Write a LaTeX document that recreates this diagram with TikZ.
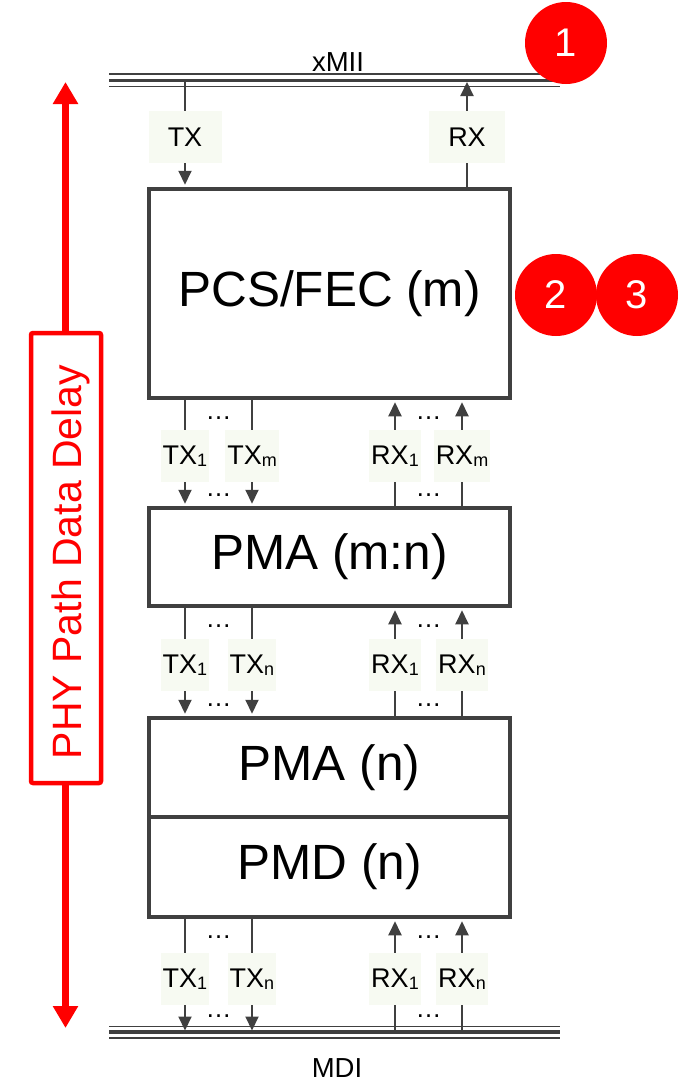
\documentclass[tikz,border=0pt]{standalone}
\usepackage{fontspec}
\setmainfont{Liberation Sans}
\usetikzlibrary{arrows.meta,calc}
\definecolor{lgray}{RGB}{64,64,64}
\definecolor{lblbg}{RGB}{247,250,242}
\definecolor{pred}{RGB}{255,0,0}
\newcommand{\lsub}[1]{\raisebox{-2.5pt}{\fontsize{18}{20}\selectfont #1}}
\begin{document}
\begin{tikzpicture}[x=1pt,y=-1pt,
  box/.style={draw=lgray,line width=4.5pt,fill=white,minimum width=361pt,inner sep=0pt,font=\fontsize{49.5}{52}\selectfont},
  sig/.style={draw=lgray,line width=2pt,-{Triangle[width=13pt,length=14pt]}},
  lbl/.style={fill=lblbg,inner xsep=2pt,minimum height=52pt,font=\fontsize{27}{29}\selectfont,text=black},
  dotsnode/.style={font=\fontsize{26}{28}\selectfont,anchor=base,inner sep=0pt},
  busthin/.style={draw=lgray,line width=1.5pt},
  busthick/.style={draw=lgray,line width=3.5pt},
  bubble/.style={circle,fill=pred,minimum size=82pt,inner sep=0pt,text=white,font=\fontsize{40}{42}\selectfont},
]
\useasboundingbox (0,0) rectangle (687,1082);

% red delay arrow and box
\coordinate (arrTop) at (65.5,82);
\coordinate (arrBot) at (65.5,1028);
\draw[pred,line width=7pt,{Triangle[width=24pt,length=22pt]}-{Triangle[width=24pt,length=22pt]}] (arrTop) -- (arrBot);
\node[draw=pred,line width=4.5pt,fill=white,rounded corners=2pt,minimum width=70pt,minimum height=450pt,inner sep=0pt] (redbox) at (66,558) {};
\node[rotate=90,anchor=base,text=pred,font=\fontsize{41}{43}\selectfont,inner sep=0pt] (redtxt) at (81.5,562) {PHY Path Data Delay};

% buses
\draw[busthin] (109,74) -- (560,74);
\draw[busthick] (109,80.5) -- (560,80.5);
\draw[busthin] (109,86.5) -- (560,86.5);
\coordinate (busTop) at (334,80.5);
\node[anchor=base,font=\fontsize{27.5}{29}\selectfont,inner sep=0pt] (xmii) at (338,71.5) {xMII};

\draw[busthin] (109,1026.5) -- (560,1026.5);
\draw[busthick] (109,1032) -- (560,1032);
\draw[busthin] (109,1038) -- (560,1038);
\coordinate (busBot) at (334,1032);
\coordinate (busBotEdge) at (334,1026.5);
\node[anchor=base,font=\fontsize{27.5}{29}\selectfont,inner sep=0pt] (mdi) at (337,1077) {MDI};

% boxes
\node[box,minimum height=209pt] (pcs) at (329.5,293.5) {PCS/FEC (m)};
\node[box,minimum height=98pt] (pma1) at (329.5,557) {PMA (m:n)};
\node[box,minimum height=99pt] (pman) at (329.5,767.5) {PMA (n)};
\node[box,minimum height=100pt] (pmd) at (329.5,867) {PMD (n)};

% lane x positions
\coordinate (cTX) at (185,0);
\coordinate (cRX) at (467,0);
\coordinate (c1) at (185,0);
\coordinate (c2) at (252,0);
\coordinate (c3) at (395,0);
\coordinate (c4) at (462,0);
\coordinate (dA) at (218.5,0);
\coordinate (dB) at (428.5,0);

% xMII <-> PCS
\draw[sig,shorten >=2pt] (busTop -| cTX) -- node[lbl,minimum width=73pt,pos=.53] (ltx) {TX} (pcs.north -| cTX);
\draw[sig,shorten >=1.5pt] (pcs.north -| cRX) -- node[lbl,minimum width=76pt,pos=.47] (lrx) {RX} (busTop -| cRX);

% PCS <-> PMA(m:n)
\draw[sig,shorten >=2pt] (pcs.south -| c1) -- node[lbl,pos=.53] (l1a) {TX\lsub{1}} (pma1.north -| c1);
\draw[sig,shorten >=2pt] (pcs.south -| c2) -- node[lbl,pos=.53] (l1b) {TX\lsub{m}} (pma1.north -| c2);
\draw[sig,shorten >=2pt] (pma1.north -| c3) -- node[lbl,pos=.47] (l1c) {RX\lsub{1}} (pcs.south -| c3);
\draw[sig,shorten >=2pt] (pma1.north -| c4) -- node[lbl,pos=.47] (l1d) {RX\lsub{m}} (pcs.south -| c4);
\node[dotsnode] (d1a) at ($(pcs.south -| dA)+(0,19)$) {…};
\node[dotsnode] (d1b) at ($(pma1.north -| dA)+(0,-9.5)$) {…};
\node[dotsnode] (d1c) at ($(pcs.south -| dB)+(0,19)$) {…};
\node[dotsnode] (d1d) at ($(pma1.north -| dB)+(0,-9.5)$) {…};

% PMA(m:n) <-> PMA(n)
\draw[sig,shorten >=2pt] (pma1.south -| c1) -- node[lbl,pos=.53] (l2a) {TX\lsub{1}} (pman.north -| c1);
\draw[sig,shorten >=2pt] (pma1.south -| c2) -- node[lbl,pos=.53] (l2b) {TX\lsub{n}} (pman.north -| c2);
\draw[sig,shorten >=2pt] (pman.north -| c3) -- node[lbl,pos=.47] (l2c) {RX\lsub{1}} (pma1.south -| c3);
\draw[sig,shorten >=2pt] (pman.north -| c4) -- node[lbl,pos=.47] (l2d) {RX\lsub{n}} (pma1.south -| c4);
\node[dotsnode] (d2a) at ($(pma1.south -| dA)+(0,19.5)$) {…};
\node[dotsnode] (d2b) at ($(pman.north -| dA)+(0,-9.5)$) {…};
\node[dotsnode] (d2c) at ($(pma1.south -| dB)+(0,19.5)$) {…};
\node[dotsnode] (d2d) at ($(pman.north -| dB)+(0,-9.5)$) {…};

% PMD <-> MDI
\draw[sig,shorten >=1.5pt] (pmd.south -| c1) -- node[lbl,pos=.53] (l3a) {TX\lsub{1}} (busBot -| c1);
\draw[sig,shorten >=1.5pt] (pmd.south -| c2) -- node[lbl,pos=.53] (l3b) {TX\lsub{n}} (busBot -| c2);
\draw[sig,shorten >=2pt] (busBot -| c3) -- node[lbl,pos=.47] (l3c) {RX\lsub{1}} (pmd.south -| c3);
\draw[sig,shorten >=2pt] (busBot -| c4) -- node[lbl,pos=.47] (l3d) {RX\lsub{n}} (pmd.south -| c4);
\node[dotsnode] (d3a) at ($(pmd.south -| dA)+(0,19)$) {…};
\node[dotsnode] (d3b) at ($(busBotEdge -| dA)+(0,-9)$) {…};
\node[dotsnode] (d3c) at ($(pmd.south -| dB)+(0,19)$) {…};
\node[dotsnode] (d3d) at ($(busBotEdge -| dB)+(0,-9)$) {…};

% bubbles
\node[bubble] (b1) at (566,43) {1};
\node[bubble] (b2) at (556,295) {2};
\node[bubble] (b3) at (637,295) {3};
\end{tikzpicture}
\end{document}
